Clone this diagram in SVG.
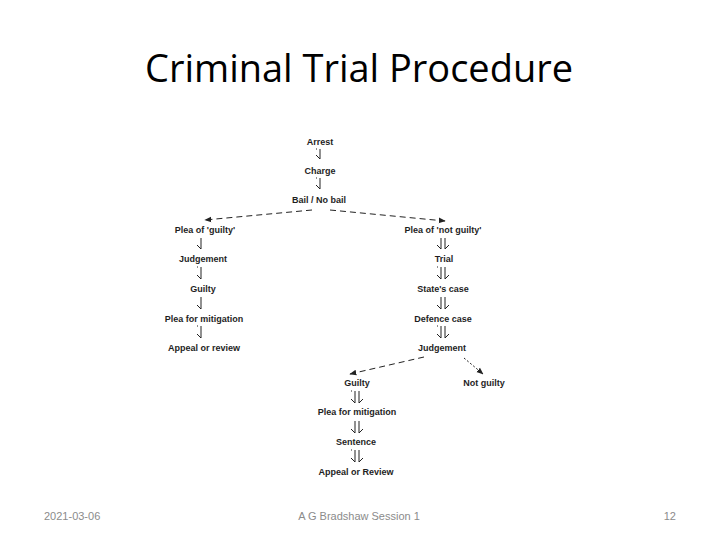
<svg xmlns="http://www.w3.org/2000/svg" width="720" height="540" viewBox="0 0 720 540">
<defs>
<style>
.t{font-family:"Liberation Sans",Arial,sans-serif;font-size:9px;font-weight:bold;fill:#1e1e1e;text-anchor:middle}
.f{font-family:"Liberation Sans",Arial,sans-serif;font-size:11px;fill:#8b8b8b}
.s{fill:none;stroke:#222;stroke-width:1}
.d{fill:none;stroke:#222;stroke-width:1;stroke-dasharray:6,4}
.o{fill:none;stroke:#222;stroke-width:1;stroke-dasharray:2,2}
</style>
<marker id="ah" viewBox="0 0 10 10" refX="9" refY="5" markerWidth="7" markerHeight="7" orient="auto-start-reverse">
<path d="M0,1 L10,5 L0,9 Z" fill="#222"/>
</marker>
</defs>
<rect width="720" height="540" fill="#fff"/>
<text x="359" y="82" font-family="'Open Sans','Liberation Sans',sans-serif" font-size="38" fill="#000" text-anchor="middle" textLength="428" lengthAdjust="spacingAndGlyphs">Criminal Trial Procedure</text>

<g id="connectors">
<path class="s" d="M320,149 V159 M316,155 L320,159 M316,149 h1"/>
<path class="s" d="M320,178 V189 M316,185 L320,189 M316,178 h1"/>
<path class="d" d="M312,210 L205,220" marker-end="url(#ah)"/>
<path class="d" d="M330,210 L445,221" marker-end="url(#ah)"/>
<path class="s" d="M201,238 V249 M197,245 L201,249"/>
<path class="s" d="M201,267 V279 M197,275 L201,279 M197,267 h1"/>
<path class="s" d="M201,297 V309 M197,305 L201,309"/>
<path class="s" d="M201,326 V338 M197,334 L201,338 M197,326 h1"/>
<path class="s" d="M441,238 V249 M445,238 V249 M437,245 L441,249 M449,245 L445,249"/>
<path class="s" d="M441,267 V279 M445,267 V279 M437,275 L441,279 M449,275 L445,279 M437,267 h1"/>
<path class="s" d="M441,297 V309 M445,297 V309 M437,305 L441,309 M449,305 L445,309"/>
<path class="s" d="M441,326 V338 M445,326 V338 M437,334 L441,338 M449,334 L445,338 M437,326 h1"/>
<path class="d" d="M424,357 L350,374" stroke-dasharray="4,3" marker-end="url(#ah)"/>
<path class="o" d="M464,358 L483,374" marker-end="url(#ah)"/>
<path class="s" d="M355,391 V403 M359,391 V403 M351,399 L355,403 M363,399 L359,403 M351,391 h1"/>
<path class="s" d="M355,421 V433 M359,421 V433 M351,429 L355,433 M363,429 L359,433"/>
<path class="s" d="M355,450 V462 M359,450 V462 M351,458 L355,462 M363,458 L359,462 M351,450 h1"/>
</g>

<g id="arrest"><text class="t" x="320" y="145">Arrest</text></g>
<g id="charge"><text class="t" x="320" y="174">Charge</text></g>
<g id="bail"><text class="t" x="319" y="203">Bail / No bail</text></g>
<g id="plea-guilty"><text class="t" x="205" y="233">Plea of 'guilty'</text></g>
<g id="judgement-l"><text class="t" x="203" y="262">Judgement</text></g>
<g id="guilty-l"><text class="t" x="203" y="292">Guilty</text></g>
<g id="mitigation-l"><text class="t" x="204" y="322">Plea for mitigation</text></g>
<g id="appeal-l"><text class="t" x="204" y="351">Appeal or review</text></g>
<g id="plea-not-guilty"><text class="t" x="443" y="233">Plea of 'not guilty'</text></g>
<g id="trial"><text class="t" x="444" y="262">Trial</text></g>
<g id="state"><text class="t" x="443" y="292">State's case</text></g>
<g id="defence"><text class="t" x="443" y="322">Defence case</text></g>
<g id="judgement-r"><text class="t" x="442" y="351">Judgement</text></g>
<g id="guilty-r"><text class="t" x="357" y="386">Guilty</text></g>
<g id="not-guilty"><text class="t" x="484" y="386">Not guilty</text></g>
<g id="mitigation-r"><text class="t" x="357" y="415">Plea for mitigation</text></g>
<g id="sentence"><text class="t" x="356" y="445">Sentence</text></g>
<g id="appeal-r"><text class="t" x="356" y="475">Appeal or Review</text></g>

<g id="footer">
<text class="f" x="44" y="520">2021-03-06</text>
<text class="f" x="359" y="520" text-anchor="middle">A G Bradshaw  Session 1</text>
<text class="f" x="676" y="520" text-anchor="end">12</text>
</g>
</svg>
